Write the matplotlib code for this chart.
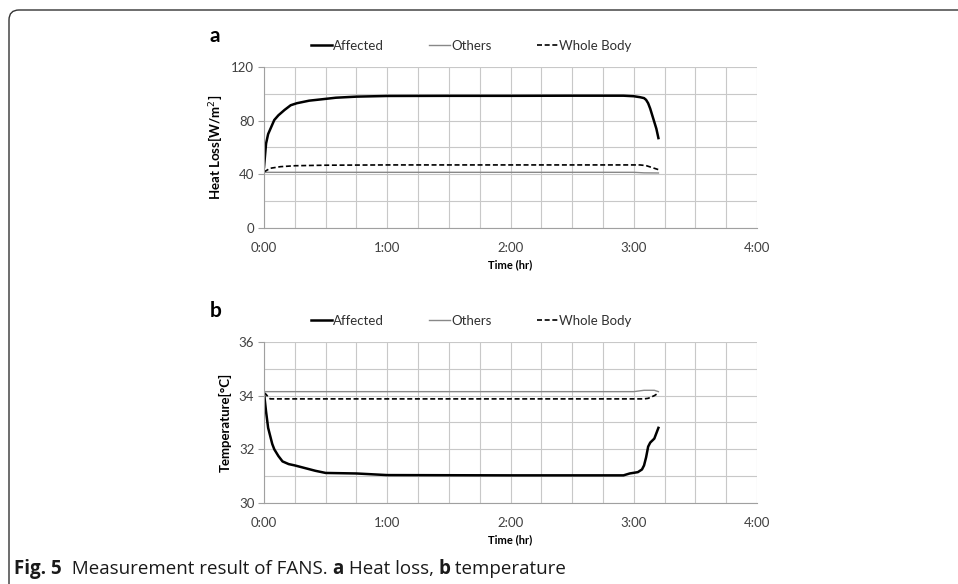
import numpy as np
import matplotlib
matplotlib.use('Agg')
import matplotlib.pyplot as plt
from matplotlib.patches import FancyBboxPatch

plt.rcParams['font.family'] = ['Lato', 'DejaVu Sans']

# Heat loss data (time in minutes)
t_hl_aff = [0, 1, 2, 4, 5, 7, 10, 13, 16, 22, 28, 35, 45, 60, 90, 120, 150, 175,
            180, 183, 185, 186, 187, 188, 189, 190, 191, 192]
hl_aff = [45.5, 63, 70, 77, 80.5, 84, 88, 91.5, 93, 94.9, 95.9, 97.1, 97.9, 98.4,
          98.5, 98.5, 98.6, 98.6, 98.2, 97.5, 96.8, 95.5, 93, 89, 84, 79, 74, 67]
t_hl_oth = [0, 60, 120, 180, 185, 192]
hl_oth = [41.5, 41.5, 41.5, 41.5, 41.1, 41.0]
t_hl_whole = [0, 3, 8, 15, 30, 60, 120, 183, 186, 189, 192]
hl_whole = [41.8, 44.5, 45.7, 46.4, 46.8, 47.0, 47.0, 47.0, 46.5, 45.0, 43.5]

# Temperature data (time in minutes)
t_tp_aff = [0, 1, 2, 3, 4, 5, 7, 9, 12, 15, 20, 25, 30, 45, 60, 120, 175, 178,
            182, 184, 185, 186, 187, 188, 190, 192]
tp_aff = [34.1, 33.4, 32.8, 32.5, 32.2, 32.0, 31.75, 31.55, 31.45, 31.4, 31.3, 31.2,
          31.12, 31.1, 31.04, 31.03, 31.03, 31.1, 31.15, 31.25, 31.4, 31.7, 32.1,
          32.25, 32.4, 32.8]
t_tp_oth = [0, 60, 120, 180, 185, 190, 192]
tp_oth = [34.15, 34.15, 34.15, 34.15, 34.2, 34.2, 34.15]
t_tp_whole = [0, 1, 2, 3, 60, 120, 185, 187, 190, 192]
tp_whole = [34.1, 34.05, 33.95, 33.88, 33.88, 33.88, 33.88, 33.9, 34.0, 34.1]

hour_ticks = [0, 60, 120, 180, 240]
hour_labels = ['0:00', '1:00', '2:00', '3:00', '4:00']

fig = plt.figure(figsize=(9.58, 5.84), dpi=100)

# frame around the figure (open at right and bottom)
frame = FancyBboxPatch((0.09, -0.5), 10.5, 5.74 + 0.5, boxstyle='round,pad=0,rounding_size=0.1',
                       transform=fig.dpi_scale_trans, fill=False, edgecolor='#333333',
                       linewidth=1.0, clip_on=False)
fig.patches.append(frame)

ax_a = fig.add_axes([0.2756, 0.6096, 0.5146, 0.2757])
ax_b = fig.add_axes([0.2756, 0.1387, 0.5146, 0.2757])


def style_axis(ax, yticks, yminor, ylim):
    ax.set_xlim(0, 240)
    ax.set_ylim(*ylim)
    ax.set_xticks(hour_ticks)
    ax.set_xticklabels(hour_labels)
    ax.set_xticks(np.arange(0, 241, 15), minor=True)
    ax.set_yticks(yticks)
    ax.set_yticks(yminor, minor=True)
    ax.grid(True, which='both', color='#c8c8c8', linewidth=0.8)
    ax.set_axisbelow(True)
    for s in ['top', 'right']:
        ax.spines[s].set_visible(False)
    for s in ['left', 'bottom']:
        ax.spines[s].set_color('#a0a0a0')
        ax.spines[s].set_linewidth(0.8)
    ax.tick_params(axis='x', which='both', length=0, pad=10, labelsize=9.5, colors='#404040')
    ax.tick_params(axis='y', which='major', length=4, color='#a0a0a0', labelsize=9.5,
                   colors='#404040', pad=3)
    ax.tick_params(axis='y', which='minor', length=0)
    ax.set_xlabel('Time (hr)', fontsize=8, fontweight='bold', labelpad=4)


ax_a.plot(t_hl_aff, hl_aff, color='black', lw=1.8, label='Affected')
ax_a.plot(t_hl_oth, hl_oth, color='#888888', lw=1.0, label='Others')
ax_a.plot(t_hl_whole, hl_whole, color='black', lw=1.2, ls=(0, (3, 1.6)), label='Whole Body')
style_axis(ax_a, [0, 40, 80, 120], np.arange(0, 121, 20), (0, 120))
ax_a.set_ylabel('Heat Loss[W/m$^2$]', fontsize=9.5, fontweight='bold', labelpad=5)

ax_b.plot(t_tp_aff, tp_aff, color='black', lw=1.8, label='Affected')
ax_b.plot(t_tp_oth, tp_oth, color='#888888', lw=1.0, label='Others')
ax_b.plot(t_tp_whole, tp_whole, color='black', lw=1.2, ls=(0, (3, 1.6)), label='Whole Body')
style_axis(ax_b, [30, 32, 34, 36], np.arange(30, 36.1, 1), (30, 36))
ax_b.set_ylabel('Temperature[°C]', fontsize=9.5, fontweight='bold', labelpad=5)

for ax, letter in [(ax_a, 'a'), (ax_b, 'b')]:
    ax.legend(loc='center', bbox_to_anchor=(0.42, 1.13), ncol=3, frameon=False,
              fontsize=9.5, handlelength=1.6, handletextpad=0.1, columnspacing=3.4,
              labelcolor='#303030')
    ax.text(-0.11, 1.19, letter, transform=ax.transAxes, fontsize=15, fontweight='bold',
            ha='left', va='center')

# caption
x0 = 14 / 958
y0 = 1 - 574 / 584
renderer = fig.canvas.get_renderer()
parts = [('Fig. 5', 'bold'), ('  Measurement result of FANS. ', 'normal'), ('a', 'bold'),
         (' Heat loss, ', 'normal'), ('b', 'bold'), (' temperature', 'normal')]
x = x0
for txt, w in parts:
    tobj = fig.text(x, y0, txt, fontsize=13.5, fontweight=w, family=['Open Sans', 'DejaVu Sans'],
                    ha='left', va='baseline', color='#1a1a1a')
    bb = tobj.get_window_extent(renderer=renderer)
    x += bb.width / fig.bbox.width

fig.savefig('out.png', dpi=100)
